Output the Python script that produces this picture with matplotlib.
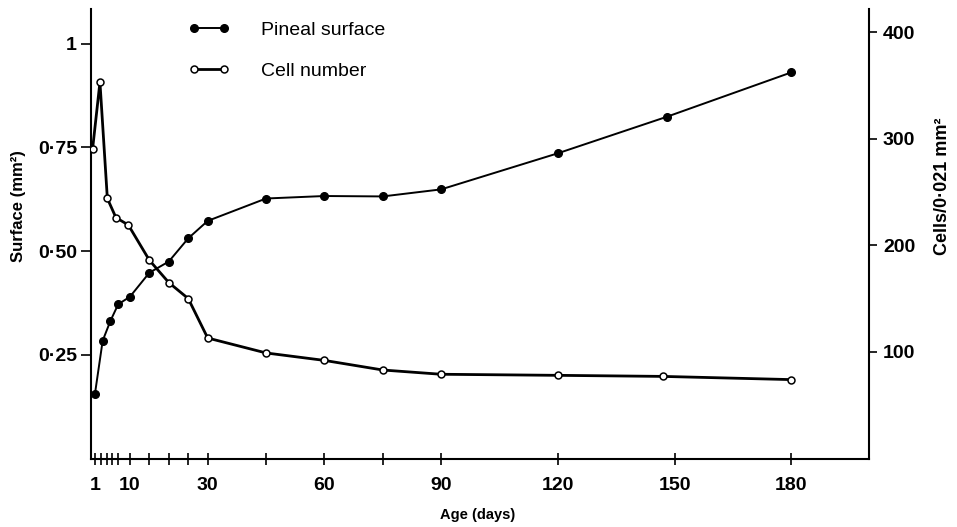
import matplotlib
matplotlib.use('Agg')
import matplotlib.pyplot as plt
from matplotlib.lines import Line2D

plt.rcParams['font.family'] = ['Liberation Sans', 'DejaVu Sans']

# ---- data ----
days_surface = [1, 3, 5, 7, 10, 15, 20, 25, 30, 45, 60, 75, 90, 120, 148, 180]
surface = [0.155, 0.284, 0.332, 0.372, 0.390, 0.448, 0.475, 0.531, 0.573,
           0.627, 0.633, 0.632, 0.649, 0.736, 0.824, 0.931]

days_cells = [0.4, 2.3, 4.2, 6.4, 9.6, 15, 20, 25, 30, 45, 60, 75, 90, 120, 147, 180]
cells = [290, 353, 244, 226, 219, 186, 165, 150, 113, 99, 92, 83, 79, 78, 77, 74]

x_tick_pos = [1, 2.5, 4, 5.5, 7, 10, 15, 20, 25, 30, 45, 60, 75, 90, 120, 150, 180]
x_labelled = {1: '1', 10: '10', 30: '30', 60: '60', 90: '90', 120: '120', 150: '150', 180: '180'}
left_ticks = [0.25, 0.5, 0.75, 1]
left_labels = ['0·25', '0·50', '0·75', '1']
right_ticks = [100, 200, 300, 400]
right_labels = ['100', '200', '300', '400']

W, H = 957, 527
fig = plt.figure(figsize=(W / 100, H / 100), dpi=100)
ax = fig.add_axes([91 / W, 68.5 / H, 778 / W, 449.5 / H])
ax.set_xlim(0, 200)
ax.set_ylim(0, 1.084)
ax2 = ax.twinx()
ax2.set_ylim(0, 421.6)

ax.plot(days_surface, surface, '-o', color='black', lw=1.4, ms=5.5,
        mfc='black', mec='black', zorder=3)
ax2.plot(days_cells, cells, '-o', color='black', lw=2.0, ms=5,
         mfc='white', mec='black', mew=1.1, zorder=3)

for a in (ax, ax2):
    a.spines['top'].set_visible(False)
    for s in a.spines.values():
        s.set_linewidth(1.5)
ax.spines['right'].set_visible(False)
ax2.spines['left'].set_visible(False)
ax2.spines['bottom'].set_visible(False)

tick_font = {'family': ['Liberation Sans', 'DejaVu Sans'], 'weight': 'bold', 'size': 14}

ax.set_xticks(x_tick_pos)
ax.set_xticklabels([x_labelled.get(t, '') for t in x_tick_pos], fontdict=tick_font)
ax.tick_params(axis='x', direction='inout', length=8, width=1.2, pad=9)
ax.set_yticks(left_ticks)
ax.set_yticklabels(left_labels, fontdict=tick_font)
ax.tick_params(axis='y', direction='out', length=7, width=1.2, pad=3)
ax2.set_yticks(right_ticks)
ax2.set_yticklabels(right_labels, fontdict=tick_font)
ax2.tick_params(axis='y', direction='out', length=6, width=1.2, pad=4)

ax.set_xlabel('Age (days)', fontsize=10.5, fontweight='bold')
ax.xaxis.set_label_coords((478 - 91) / 778, (458.5 - 515) / 449.5)
ax.xaxis.label.set_va('center')
ax.set_ylabel('Surface (mm²)', fontsize=12, fontweight='bold')
ax.yaxis.set_label_coords((19 - 91) / 778, (458.5 - 206) / 449.5)
ax.yaxis.label.set_va('center')
ax2.set_ylabel('Cells/0·021 mm²', fontsize=13, fontweight='bold', rotation=90)
ax2.yaxis.set_label_coords((942 - 91) / 778, (458.5 - 186) / 449.5)
ax2.yaxis.label.set_va('center')

handles = [
    Line2D([], [], color='black', lw=1.4, marker='o', ms=5.5, mfc='black', mec='black'),
    Line2D([], [], color='black', lw=2.0, marker='o', ms=5, mfc='white', mec='black', mew=1.1),
]
leg = fig.legend(handles, ['Pineal surface', 'Cell number'], loc='upper left',
                 bbox_to_anchor=(188 / W, 1 - 21 / H), frameon=False, numpoints=2,
                 fontsize=14, handlelength=2.15, handletextpad=1.6,
                 labelspacing=1.2, borderpad=0, borderaxespad=0)

fig.savefig('out.png', dpi=100)
